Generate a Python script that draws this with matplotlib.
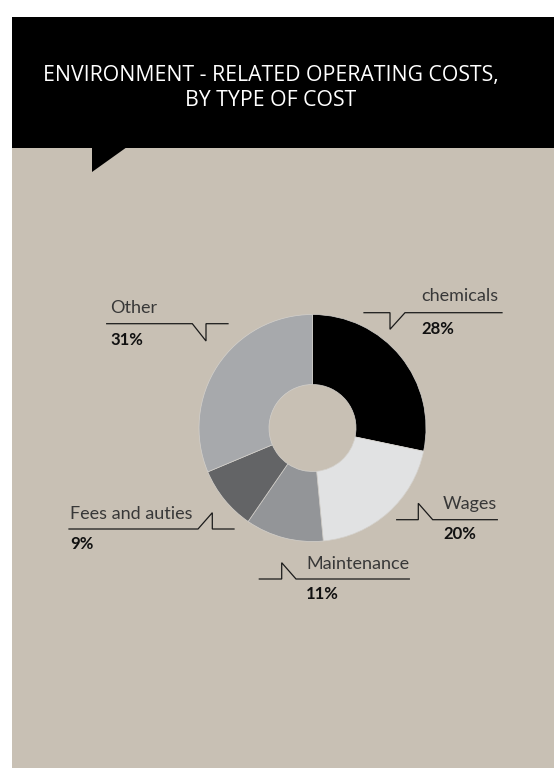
import matplotlib
matplotlib.use("Agg")
import matplotlib.pyplot as plt
from matplotlib.patches import Rectangle, Polygon

# cost breakdown, clockwise from 12 o'clock
categories = ["chemicals", "Wages", "Maintenance", "Fees and auties", "Other"]
shares = [28, 20, 11, 9, 31]
pct_labels = ["28%", "20%", "11%", "9%", "31%"]

slice_colors = ["#000000", "#e1e2e3", "#939598", "#636466", "#a7a9ac"]
BG = "#c8c0b4"
W, H = 554, 768


def flip(y):
    # layout below is measured from the top edge
    return H - y


fig = plt.figure(figsize=(W / 100, H / 100), dpi=100)
fig.patch.set_facecolor("white")
ax = fig.add_axes([0, 0, 1, 1])

# donut
ax.pie(shares, colors=slice_colors, startangle=90, counterclock=False,
       radius=113.5, center=(312.5, flip(428)),
       wedgeprops=dict(width=113.5 - 43.5, edgecolor="#d4d1cc", linewidth=0.5))

ax.set_xlim(0, W)
ax.set_ylim(0, H)
ax.set_aspect("equal")
ax.axis("off")

# panel, header and speech-bubble tail
ax.add_patch(Rectangle((12, 0), W - 12, flip(17), facecolor=BG, edgecolor="none", zorder=-5))
ax.add_patch(Rectangle((12, flip(148)), W - 12, 131, facecolor="black", edgecolor="none", zorder=-4))
ax.add_patch(Polygon([(92, flip(147)), (92, flip(172)), (127, flip(147))], closed=True,
                     facecolor="black", edgecolor="none", zorder=-4))

ax.text(271, flip(76), "ENVIRONMENT - RELATED OPERATING COSTS,", color="white",
        fontsize=15.3, family="Open Sans", ha="center", va="center")
ax.text(271, flip(100), "BY TYPE OF COST", color="white",
        fontsize=15.3, family="Open Sans", ha="center", va="center")

# label anchor (left x, name y, pct y) and leader polyline for each slice
label_pos = {
    "chemicals": (421.5, 296, 329),
    "Wages": (443, 504, 534),
    "Maintenance": (306, 564, 594),
    "Fees and auties": (70, 514, 544),
    "Other": (110, 308, 340),
}
leaders = {
    "chemicals": [(364, 312.7), (390, 312.7), (390, 329.3), (405, 312.7), (502, 312.7)],
    "Wages": [(396.7, 519.7), (418.3, 519.7), (418.3, 503.3), (432.7, 519.7), (497.3, 519.7)],
    "Maintenance": [(259.3, 579), (281.7, 579), (281.7, 562.7), (296, 579), (409.3, 579)],
    "Fees and auties": [(69, 529), (198, 529), (212.3, 512.7), (212.3, 529), (234, 529)],
    "Other": [(106.7, 323.7), (192.3, 323.7), (206, 341), (206, 323.7), (228, 323.7)],
}

for name, pct in zip(categories, pct_labels):
    x, y_name, y_pct = label_pos[name]
    ax.text(x, flip(y_name), name, color="#383838", fontsize=13,
            family="Lato", ha="left", va="center")
    ax.text(x, flip(y_pct), pct, color="#111111", fontsize=12,
            family="Lato", fontweight="bold", ha="left", va="center")
    xs = [p[0] for p in leaders[name]]
    ys = [flip(p[1]) for p in leaders[name]]
    ax.plot(xs, ys, color="#1a1a1a", linewidth=0.9, solid_joinstyle="miter")

fig.savefig("out.png", dpi=100, facecolor=fig.get_facecolor())
